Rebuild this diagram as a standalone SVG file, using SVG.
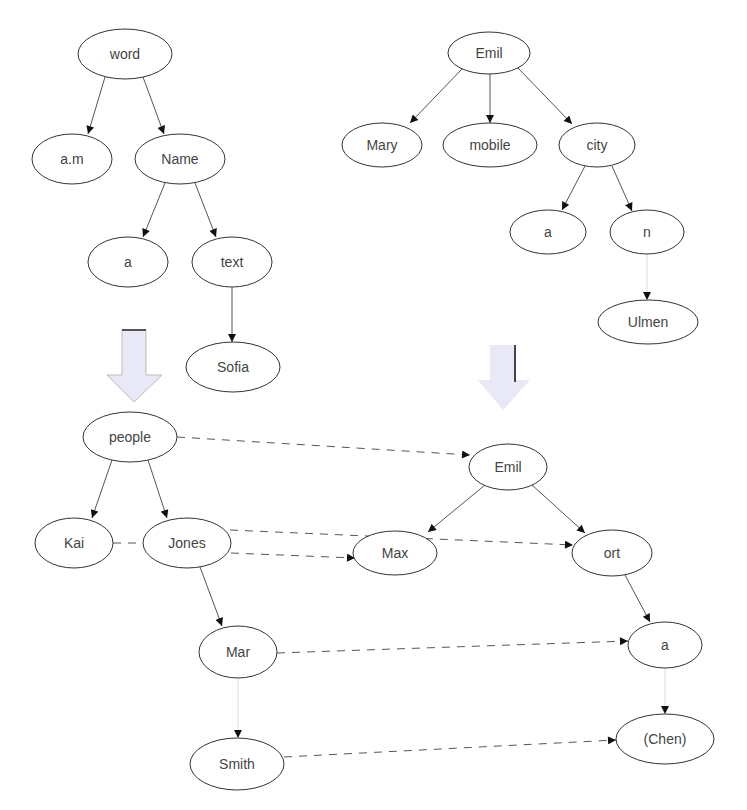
<svg xmlns="http://www.w3.org/2000/svg" width="747" height="810" viewBox="0 0 747 810">
<defs>
<marker id="ah" viewBox="0 0 10 10" refX="10" refY="5" markerWidth="9" markerHeight="8" markerUnits="userSpaceOnUse" orient="auto">
<path d="M0,0 L10,5 L0,10 z" fill="#111"/>
</marker>
<style>
.n ellipse{fill:#fff;stroke:#333;stroke-width:1}
.n text{font-family:"Liberation Sans",Arial,sans-serif;font-size:14px;fill:#444;text-anchor:middle;dominant-baseline:central}
.e{stroke:#555;stroke-width:1;fill:none;marker-end:url(#ah)}
.f{stroke:#ddd;stroke-width:1;fill:none;marker-end:url(#ah)}
.m{stroke:#555;stroke-width:1;fill:none;stroke-dasharray:8 7;marker-end:url(#ah)}
.big{fill:#e8e8f6;stroke:#bbb;stroke-width:1}
</style>
</defs>
<rect width="747" height="810" fill="#fff"/>
<g id="bigarrows">
<polygon class="big" points="122,330 146,330 146,375 162,375 134,402 107,375 122,375"/>
<line x1="122" y1="330" x2="146" y2="330" stroke="#555" stroke-width="2"/>
<polygon class="big" points="490,345 516,345 516,380 530,380 503,410 478,380 490,380" style="stroke:none"/>
<line x1="515" y1="345" x2="515" y2="382" stroke="#111" stroke-width="1.5"/>
</g>
<g id="connectors">
<line class="e" x1="105" y1="77" x2="88" y2="134"/>
<line class="e" x1="143" y1="77" x2="164" y2="134"/>
<line class="e" x1="165" y1="183" x2="143" y2="237"/>
<line class="e" x1="195" y1="183" x2="216" y2="237"/>
<line class="e" x1="232" y1="287" x2="232" y2="342"/>
<line class="e" x1="462" y1="69" x2="410" y2="123"/>
<line class="e" x1="490" y1="74" x2="490" y2="123"/>
<line class="e" x1="518" y1="68" x2="572" y2="124"/>
<line class="e" x1="585" y1="166" x2="562" y2="210"/>
<line class="e" x1="612" y1="166" x2="632" y2="211"/>
<line class="f" x1="647" y1="254" x2="647" y2="300"/>
<line class="e" x1="112" y1="460" x2="92" y2="518"/>
<line class="e" x1="148" y1="460" x2="167" y2="518"/>
<line x1="113" y1="543" x2="143" y2="543" stroke="#555" stroke-width="1" stroke-dasharray="8 7"/>
<line class="e" x1="200" y1="567" x2="222" y2="626"/>
<line class="f" x1="238" y1="678" x2="238" y2="738"/>
<line class="e" x1="485" y1="485" x2="428" y2="532"/>
<line class="e" x1="532" y1="485" x2="585" y2="533"/>
<line class="e" x1="625" y1="575" x2="650" y2="622"/>
<line class="f" x1="665" y1="668" x2="665" y2="714"/>
<line class="m" x1="177" y1="437" x2="470" y2="455"/>
<line class="m" x1="230" y1="530" x2="573" y2="545"/>
<line class="m" x1="231" y1="553" x2="355" y2="558"/>
<line class="m" x1="277" y1="653" x2="628" y2="641"/>
<line class="m" x1="284" y1="757" x2="616" y2="740"/>
</g>
<g id="tl_root" class="n"><ellipse cx="125" cy="54" rx="47" ry="25"/><text x="125" y="54">word</text></g>
<g id="tl_am" class="n"><ellipse cx="72" cy="159" rx="40" ry="25"/><text x="72" y="159">a.m</text></g>
<g id="tl_name" class="n"><ellipse cx="180" cy="159" rx="45" ry="25"/><text x="180" y="159">Name</text></g>
<g id="tl_a" class="n"><ellipse cx="128" cy="262" rx="40" ry="25"/><text x="128" y="262">a</text></g>
<g id="tl_text" class="n"><ellipse cx="232" cy="262" rx="40" ry="25"/><text x="232" y="262">text</text></g>
<g id="tl_sofia" class="n"><ellipse cx="233" cy="367" rx="47" ry="25"/><text x="233" y="367">Sofia</text></g>
<g id="tr_root" class="n"><ellipse cx="489" cy="53" rx="41" ry="21"/><text x="489" y="53">Emil</text></g>
<g id="tr_mary" class="n"><ellipse cx="382" cy="145" rx="40" ry="22"/><text x="382" y="145">Mary</text></g>
<g id="tr_mobile" class="n"><ellipse cx="490" cy="145" rx="47" ry="22"/><text x="490" y="145">mobile</text></g>
<g id="tr_city" class="n"><ellipse cx="597" cy="145" rx="38" ry="22"/><text x="597" y="145">city</text></g>
<g id="tr_a" class="n"><ellipse cx="548" cy="232" rx="38" ry="22"/><text x="548" y="232">a</text></g>
<g id="tr_n" class="n"><ellipse cx="647" cy="232" rx="37" ry="22"/><text x="647" y="232">n</text></g>
<g id="tr_ulmen" class="n"><ellipse cx="648" cy="322" rx="50" ry="22"/><text x="648" y="322">Ulmen</text></g>
<g id="bl_root" class="n"><ellipse cx="130" cy="437" rx="47" ry="25"/><text x="130" y="437">people</text></g>
<g id="bl_kai" class="n"><ellipse cx="74" cy="543" rx="39" ry="25"/><text x="74" y="543">Kai</text></g>
<g id="bl_jones" class="n"><ellipse cx="187" cy="543" rx="44" ry="25"/><text x="187" y="543">Jones</text></g>
<g id="bl_mar" class="n"><ellipse cx="238" cy="652" rx="39" ry="26"/><text x="238" y="652">Mar</text></g>
<g id="bl_smith" class="n"><ellipse cx="237" cy="764" rx="47" ry="26"/><text x="237" y="764">Smith</text></g>
<g id="br_root" class="n"><ellipse cx="508" cy="467" rx="39" ry="23"/><text x="508" y="467">Emil</text></g>
<g id="br_max" class="n"><ellipse cx="395" cy="553" rx="42" ry="22"/><text x="395" y="553">Max</text></g>
<g id="br_ort" class="n"><ellipse cx="612" cy="553" rx="40" ry="23"/><text x="612" y="553">ort</text></g>
<g id="br_a" class="n"><ellipse cx="665" cy="645" rx="37" ry="23"/><text x="665" y="645">a</text></g>
<g id="br_chen" class="n"><ellipse cx="665" cy="739" rx="49" ry="25"/><text x="665" y="739">(Chen)</text></g>
</svg>
